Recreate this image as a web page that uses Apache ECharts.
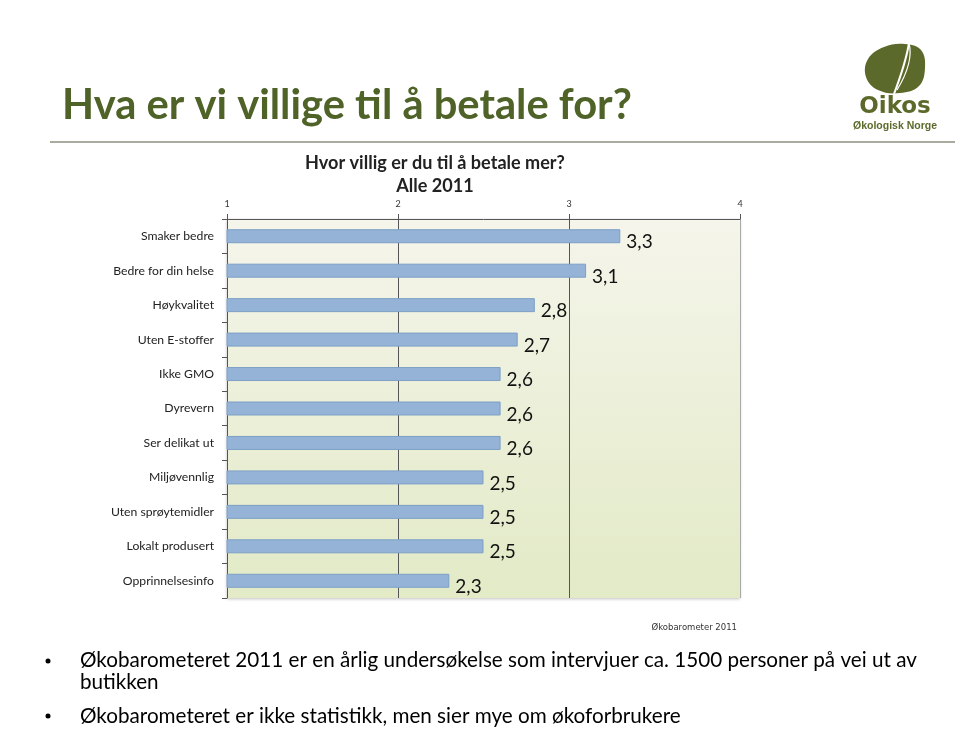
<!DOCTYPE html>
<html>
<head>
<meta charset="utf-8">
<script src="https://cdn.jsdelivr.net/npm/echarts@6/dist/echarts.min.js"></script>
<style>html,body{margin:0;padding:0;background:#fff;}#c{width:960px;height:729px;}</style>
</head>
<body>
<div id="c"></div>
<script>
const categories = ["Smaker bedre","Bedre for din helse","Høykvalitet","Uten E-stoffer","Ikke GMO","Dyrevern","Ser delikat ut","Miljøvennlig","Uten sprøytemidler","Lokalt produsert","Opprinnelsesinfo"];
const values = [3.3, 3.1, 2.8, 2.7, 2.6, 2.6, 2.6, 2.5, 2.5, 2.5, 2.3];
const xTicks = [1, 2, 3, 4];
const pageTitle = "Hva er vi villige til å betale for?";
const chartTitle = "Hvor villig er du til å betale mer?";
const chartSubtitle = "Alle 2011";
const sourceText = "Økobarometer 2011";
const bullets = ["Økobarometeret 2011 er en årlig undersøkelse som intervjuer ca. 1500 personer på vei ut av", "butikken", "Økobarometeret er ikke statistikk, men sier mye om økoforbrukere"];

const hum = 'Lato, "Open Sans", sans-serif';
const ctx = document.createElement('canvas').getContext('2d');
function fit(text, weight, family, width) {
  ctx.font = weight + ' 100px ' + family;
  return 100 * width / ctx.measureText(text).width;
}
const titleSize = fit(pageTitle, 'bold', hum, 570);
const chartTitleSize = fit(chartTitle, 'bold', hum, 260);
const bulletSize = fit(bullets[0], 'normal', hum, 837);
const catSize = fit("Bedre for din helse", 'normal', hum, 101);

const chart = echarts.init(document.getElementById('c'));
chart.setOption({
  animation: false,
  backgroundColor: '#fff',
  title: {
    text: chartTitle + '\n' + chartSubtitle,
    left: 430, top: 147, textAlign: 'center',
    textStyle: {fontFamily: hum, fontSize: chartTitleSize, fontWeight: 'bold', color: '#222', lineHeight: 23}
  },
  grid: {
    left: 227, right: 220, top: 219, bottom: 131,
    show: true, borderWidth: 0,
    backgroundColor: new echarts.graphic.LinearGradient(0, 0, 0, 1, [
      {offset: 0, color: '#f5f5eb'}, {offset: 1, color: '#e2eac6'}
    ]),
    shadowColor: 'rgba(0,0,0,0.25)', shadowBlur: 3, shadowOffsetY: 1
  },
  xAxis: {
    type: 'value', position: 'top', min: xTicks[0], max: xTicks[xTicks.length-1], interval: 1,
    axisLine: {show: true, lineStyle: {color: '#555'}},
    axisTick: {show: true, length: 5, lineStyle: {color: '#555'}},
    axisLabel: {fontSize: 9, color: '#333', margin: 10, fontFamily: hum},
    splitLine: {show: true, lineStyle: {color: ['#555', '#555', '#555', '#aaa'], width: 1}}
  },
  yAxis: {
    type: 'category', data: categories, inverse: true,
    axisLine: {show: true, lineStyle: {color: '#555'}},
    axisTick: {show: true, length: 5, lineStyle: {color: '#555'}},
    axisLabel: {fontSize: catSize, color: '#222', margin: 13, fontFamily: hum}
  },
  series: [{
    type: 'bar', data: values, barWidth: 14, clip: true,
    itemStyle: {color: '#95b3d7', borderColor: '#7d9fc6', borderWidth: 1},
    label: {
      show: true, position: 'right', distance: 6, offset: [0, 6],
      fontSize: 19, color: '#111', fontFamily: hum,
      formatter: p => String(p.value).replace('.', ',')
    }
  }],
  graphic: [
    {type: 'text', x: 62, y: 106, style: {text: pageTitle, font: 'bold ' + titleSize + 'px ' + hum, fill: '#4f6228', verticalAlign: 'middle'}},
    {type: 'line', shape: {x1: 50, y1: 142, x2: 955, y2: 142}, style: {stroke: '#8d8f7f', lineWidth: 1.5}},
    {type: 'polygon', shape: {smooth: 0.4, points: [[884,47],[905,44],[921,50],[925,68],[919,86],[900,93],[878,90],[866,77],[868,59]]}, style: {fill: '#5b6a2a'}},
    {type: 'bezierCurve', shape: {x1: 909, y1: 43, cpx1: 906, cpy1: 62, x2: 894, y2: 94}, style: {stroke: '#fff', lineWidth: 2, fill: null}},
    {type: 'bezierCurve', shape: {x1: 909, y1: 43, cpx1: 914, cpy1: 62, x2: 897, y2: 90}, style: {stroke: '#fff', lineWidth: 1.2, fill: null}},
    {type: 'text', x: 895, y: 107, style: {text: 'Oikos', font: 'bold 23px "DejaVu Sans", sans-serif', fill: '#5b6a2a', align: 'center', verticalAlign: 'middle'}},
    {type: 'text', x: 895, y: 126, style: {text: 'Økologisk Norge', font: 'bold 10.5px "Liberation Sans", sans-serif', fill: '#5b6a2a', align: 'center', verticalAlign: 'middle'}},
    {type: 'text', x: 737, y: 628, style: {text: sourceText, font: '8.5px "DejaVu Sans", sans-serif', fill: '#333', align: 'right', verticalAlign: 'middle'}},
    {type: 'circle', shape: {cx: 48, cy: 661, r: 2.5}, style: {fill: '#000'}},
    {type: 'circle', shape: {cx: 48, cy: 716, r: 2.5}, style: {fill: '#000'}},
    {type: 'text', x: 80, y: 660, style: {text: bullets[0], font: bulletSize + 'px ' + hum, fill: '#000', verticalAlign: 'middle'}},
    {type: 'text', x: 80, y: 682, style: {text: bullets[1], font: bulletSize + 'px ' + hum, fill: '#000', verticalAlign: 'middle'}},
    {type: 'text', x: 80, y: 716, style: {text: bullets[2], font: bulletSize + 'px ' + hum, fill: '#000', verticalAlign: 'middle'}}
  ]
});
</script>
</body>
</html>
